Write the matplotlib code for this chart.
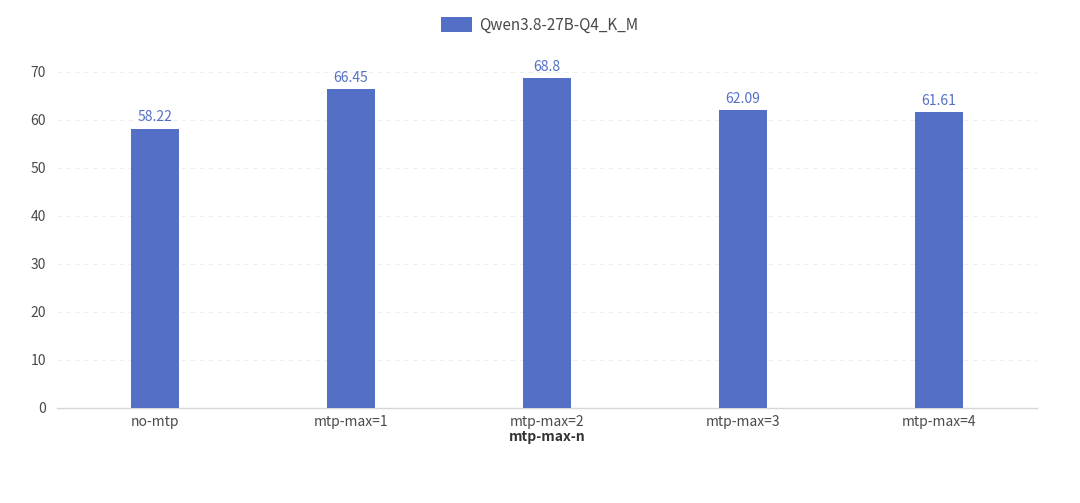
import matplotlib
matplotlib.use("Agg")
import matplotlib.pyplot as plt

plt.rcParams['font.family'] = ['Noto Sans CJK SC', 'DejaVu Sans']

# 数据
categories = ["no-mtp", "mtp-max=1", "mtp-max=2", "mtp-max=3", "mtp-max=4"]
values = [58.22, 66.45, 68.8, 62.09, 61.61]
series_name = "Qwen3.8-27B-Q4_K_M"
x_title = "mtp-max-n"

bar_color = "#5470c6"
label_color = "#4a4a4a"

fig = plt.figure(figsize=(10.8, 5.03), dpi=100)
ax = fig.add_axes([0.0528, 0.1889, 0.9074, 0.668])

x = list(range(len(categories)))
bars = ax.bar(x, values, width=0.245, color=bar_color, label=series_name, zorder=3)

# 数值标签
for xi, v in zip(x, values):
    ax.annotate(f"{v:g}", (xi, v), xytext=(0, 3), textcoords="offset points",
                ha="center", va="bottom", fontsize=10, color=bar_color)

ax.set_xlim(-0.5, len(categories) - 0.5)
ax.set_ylim(0, 70)
ax.set_yticks(range(0, 71, 10))
ax.set_xticks(x)
ax.set_xticklabels(categories)
ax.tick_params(axis="both", length=0, labelsize=10, labelcolor=label_color)
ax.tick_params(axis="x", pad=5)
ax.tick_params(axis="y", pad=8)

ax.grid(axis="y", color="#eeeeee", linestyle=(0, (4, 4)), linewidth=0.8, zorder=0)
for s in ["top", "right", "left"]:
    ax.spines[s].set_visible(False)
ax.spines["bottom"].set_color("#d6d6d6")
ax.spines["bottom"].set_linewidth(1)

ax.set_xlabel(x_title, fontsize=10, fontweight="bold", color="#333333", labelpad=1)

leg = fig.legend(handles=[bars], labels=[series_name], loc="center",
                 bbox_to_anchor=(0.5, 0.95), frameon=False, fontsize=11,
                 handlelength=2.0, handleheight=1.1, handletextpad=0.5)
for t in leg.get_texts():
    t.set_color(label_color)

fig.savefig("out.png", dpi=100)
